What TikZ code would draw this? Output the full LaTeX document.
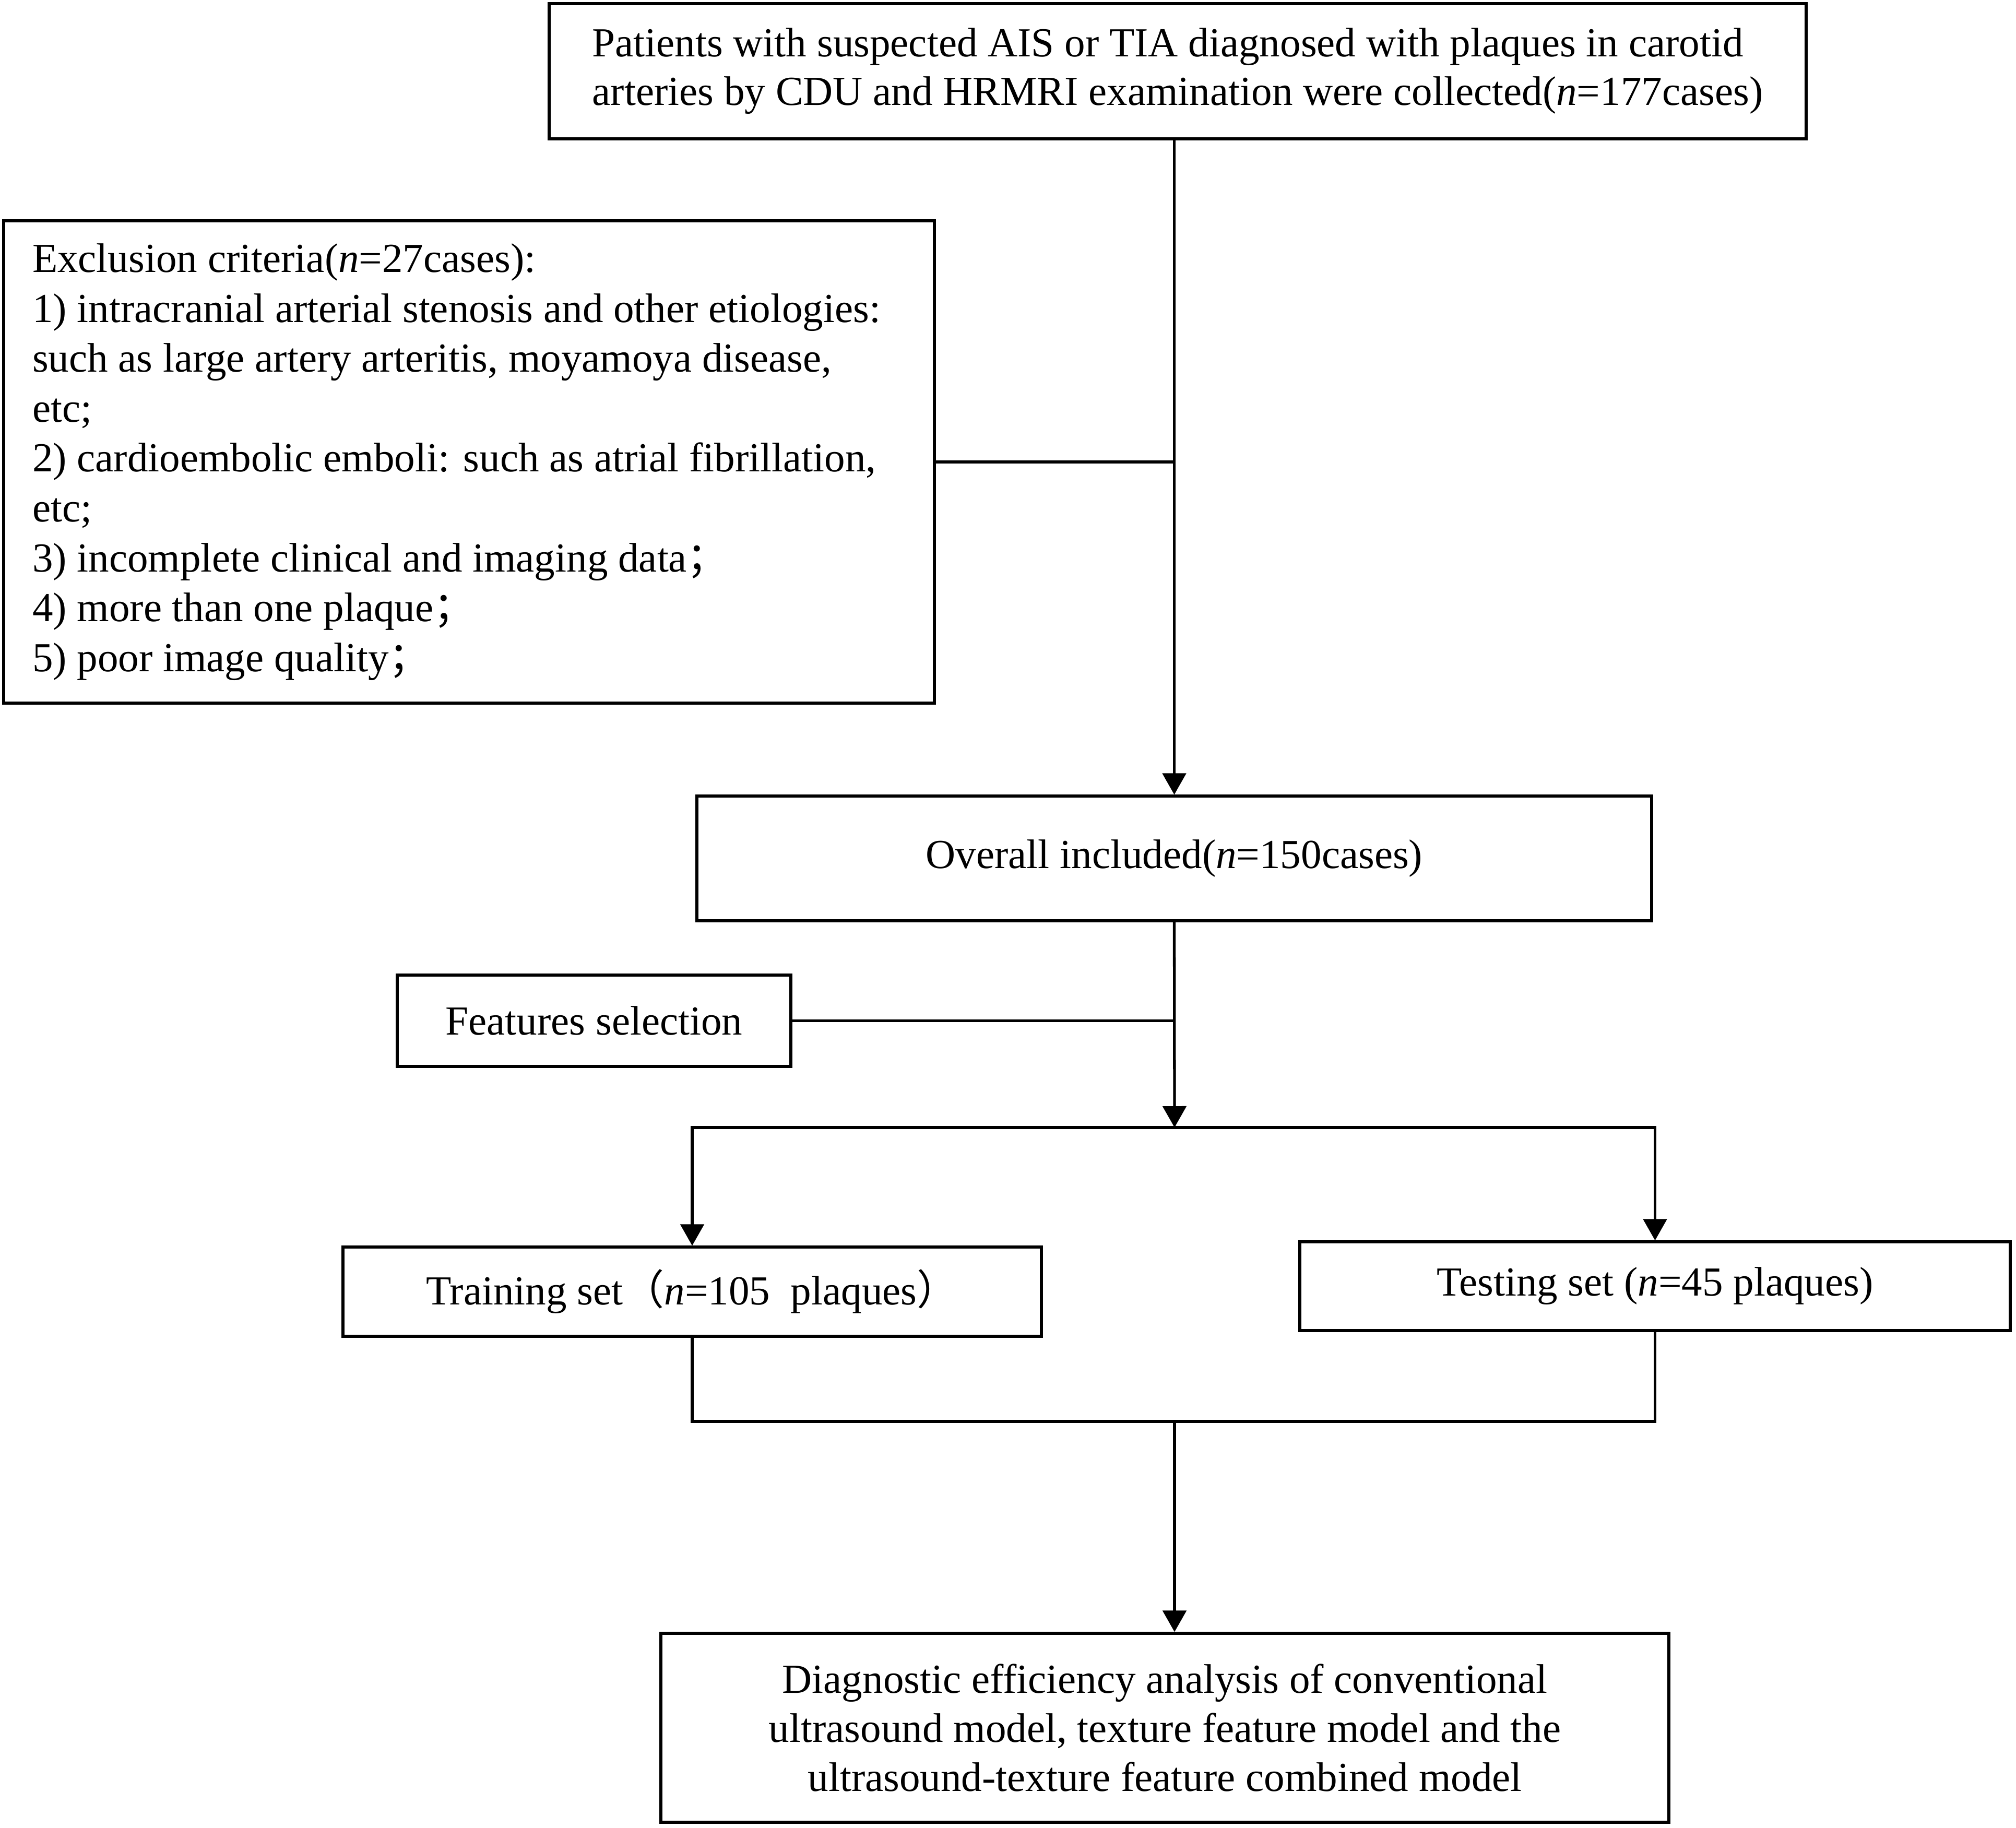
\documentclass[tikz,border=0pt]{standalone}
\usepackage{amsmath}
\usepackage{fontspec}
\setmainfont{Liberation Serif}
\newfontfamily\cjk{Noto Sans CJK SC}
\usetikzlibrary{arrows.meta}

\begin{document}
\begin{tikzpicture}[line width=1.5pt,
	box/.style={rectangle, draw=black, line width=1.5pt, inner sep=0pt,
		font=\fontsize{22.5}{26.5}\selectfont},
	arr/.style={-{Triangle[width=4.5mm,length=4.1mm]}}]
	\useasboundingbox (0,0) rectangle (38.62,-35.02);
	\node[box, align=left,
	minimum width = 24.08cm,
	minimum height = 2.59cm] (pat) at(22.56,-1.365){Patients with suspected AIS or TIA diagnosed with plaques in carotid\\arteries by CDU and HRMRI examination were collected(\textit{n}=177cases)};
	\node[box, align=flush left,
	text width = 16.73cm, inner xsep = 0.55cm,
	minimum height = 9.24cm,
	font=\fontsize{22.5}{27.2}\selectfont] (excl) at(8.985,-8.85){Exclusion criteria(\textit{n}=27cases):\\
		1) intracranial arterial stenosis and other etiologies:\\
		such as large artery arteritis, moyamoya disease,\\
		etc;\\
		2) cardioembolic emboli: such as atrial fibrillation,\\
		etc;\\
		3) incomplete clinical and imaging data{\cjk ；}\\
		4) more than one plaque{\cjk ；}\\
		5) poor image quality{\cjk ；}};
	\node[box,
	minimum width = 18.29cm,
	minimum height = 2.39cm] (incl) at(22.495,-16.445){Overall included(\textit{n}=150cases)};
	\node[box,
	minimum width = 7.54cm,
	minimum height = 1.75cm] (feat) at(11.38,-19.555){Features selection};
	\node[box,
	minimum width = 13.38cm,
	minimum height = 1.71cm] (train) at(13.26,-24.745){Training set{\cjk （}\textit{n}=105\ \ plaques{\cjk ）}};
	\node[box,
	minimum width = 13.61cm,
	minimum height = 1.70cm] (test) at(31.705,-24.64){Testing set (\textit{n}=45 plaques)};
	\node[box, align=center,
	minimum width = 19.31cm,
	minimum height = 3.62cm,
	font=\fontsize{22.5}{26.8}\selectfont] (diag) at(22.315,-33.10){Diagnostic efficiency analysis of conventional\\ultrasound model, texture feature model and the\\ultrasound-texture feature combined model};
	\coordinate (split) at(22.5,-21.6);
	\coordinate (join) at(22.5,-27.23);
	\draw[arr] (pat.south -| incl.north) -- (incl.north);
	\draw (excl.east) -- (excl.east -| incl.north);
	\draw[arr] (incl.south) -- (split);
	\draw (feat.east) -- (feat.east -| incl.south);
	\draw[arr] (split) -| (train.north);
	\draw[arr] (split) -| (test.north);
	\draw (train.south) -- (train.south |- join) -- (test.south |- join) -- (test.south);
	\draw[arr] (join) -- (join |- diag.north);
\end{tikzpicture}
\end{document}
